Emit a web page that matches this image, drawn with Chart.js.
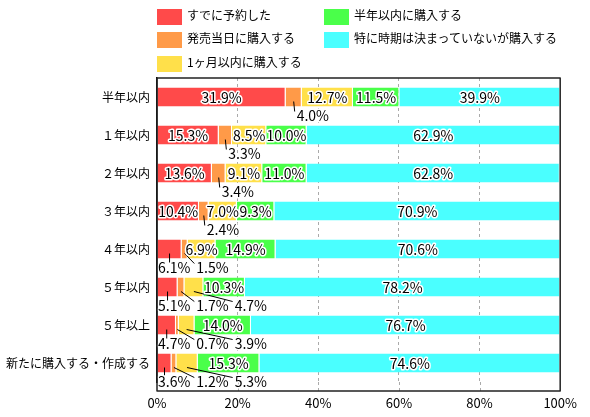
<!DOCTYPE html>
<html lang="ja">
<head>
<meta charset="UTF-8">
<title>購入時期</title>
<script src="https://cdn.jsdelivr.net/npm/chart.js"></script>
<style>
    body { margin: 0; background: #fff; }
    .wrap { position: relative; width: 590px; height: 417px; }
    .legend_item { position: absolute; font: 12px "Noto Sans CJK JP", sans-serif; color: #000; line-height: 16px; white-space: nowrap; }
    .legend_item span { display: inline-block; width: 25px; height: 16px; vertical-align: middle; margin-right: 5px; }
</style>
</head>
<body>
<div class="wrap">
    <canvas id="grafico" width="590" height="417"></canvas>
    <div id="legenda"></div>
</div>

<script>
    const categorias = ['半年以内', '１年以内', '２年以内', '３年以内', '４年以内', '５年以内', '５年以上', '新たに購入する・作成する'];
    const seriesNomes = ['すでに予約した', '発売当日に購入する', '1ヶ月以内に購入する', '半年以内に購入する', '特に時期は決まっていないが購入する'];
    const reservado = [31.9, 15.3, 13.6, 10.4, 6.1, 5.1, 4.7, 3.6];
    const diaLancamento = [4.0, 3.3, 3.4, 2.4, 1.5, 1.7, 0.7, 1.2];
    const umMes = [12.7, 8.5, 9.1, 7.0, 6.9, 4.7, 3.9, 5.3];
    const meioAno = [11.5, 10.0, 11.0, 9.3, 14.9, 10.3, 14.0, 15.3];
    const semData = [39.9, 62.9, 62.8, 70.9, 70.6, 78.2, 76.7, 74.6];
    const cores = ['#ff4a4a', '#ff9a48', '#ffe04a', '#4aff4a', '#4affff'];
    const fonte = '"Noto Sans CJK JP", sans-serif';
    const folgaInferior = 9; // espaco vazio abaixo da ultima barra

    // legenda em html (duas colunas)
    const posLegenda = [[157, 7], [157, 30], [157, 54], [324, 7], [324, 30]];
    const legenda = document.getElementById('legenda');
    seriesNomes.forEach((nome, i) => {
        const item = document.createElement('div');
        item.className = 'legend_item';
        item.style.left = posLegenda[i][0] + 'px';
        item.style.top = posLegenda[i][1] + 'px';
        item.innerHTML = '<span style="background:' + cores[i] + '"></span>' + nome;
        legenda.appendChild(item);
    });

    // rotulos dos valores: dentro da barra ou abaixo com linha guia
    const rotulos = {
        id: 'rotulos',
        afterDatasetsDraw(chart) {
            const ctx = chart.ctx;
            const area = chart.chartArea;
            const eixoX = chart.scales.x;
            ctx.save();

            // prolonga as linhas de grade ate a moldura
            ctx.strokeStyle = '#aaa';
            ctx.lineWidth = 1;
            ctx.setLineDash([3, 3]);
            eixoX.ticks.forEach(t => {
                if (t.value === 0 || t.value === 100) return;
                const px = Math.round(eixoX.getPixelForValue(t.value)) + 0.5;
                ctx.beginPath();
                ctx.moveTo(px, area.bottom);
                ctx.lineTo(px, area.bottom + folgaInferior);
                ctx.stroke();
            });
            ctx.setLineDash([]);

            ctx.font = '14px ' + fonte;
            ctx.textBaseline = 'middle';
            ctx.lineJoin = 'round';
            categorias.forEach((c, i) => {
                let fimAnterior = area.left - 5;
                chart.data.datasets.forEach((ds, d) => {
                    const bar = chart.getDatasetMeta(d).data[i];
                    const valor = ds.data[i];
                    const texto = valor.toFixed(1) + '%';
                    const centro = (bar.x + bar.base) / 2;
                    const w = ctx.measureText(texto).width;
                    if (valor >= 6.5) {
                        ctx.textAlign = 'center';
                        ctx.lineWidth = 3;
                        ctx.strokeStyle = '#fff';
                        ctx.strokeText(texto, centro, bar.y + 1);
                        ctx.fillStyle = '#000';
                        ctx.fillText(texto, centro, bar.y + 1);
                        return;
                    }
                    const fundo = bar.y + bar.height / 2;
                    const yTexto = fundo + 9;
                    let esquerda;
                    if (d === 0) {
                        esquerda = Math.max(area.left + 1, centro - w / 2);
                    } else {
                        esquerda = Math.max(centro + 3, fimAnterior + 6);
                    }
                    ctx.strokeStyle = '#000';
                    ctx.lineWidth = 1;
                    ctx.beginPath();
                    ctx.moveTo(centro, fundo - 5);
                    if (d === 0) {
                        ctx.lineTo(centro, yTexto - 5);
                    } else {
                        ctx.lineTo(esquerda - 2, yTexto - 4);
                    }
                    ctx.stroke();
                    ctx.textAlign = 'left';
                    ctx.lineWidth = 3;
                    ctx.strokeStyle = '#fff';
                    ctx.strokeText(texto, esquerda, yTexto);
                    ctx.fillStyle = '#000';
                    ctx.fillText(texto, esquerda, yTexto);
                    fimAnterior = esquerda + w;
                });
            });

            // moldura do grafico
            ctx.strokeStyle = '#222';
            ctx.lineWidth = 1.5;
            ctx.strokeRect(area.left, area.top, area.right - area.left, area.bottom + folgaInferior - area.top);
            ctx.restore();
        }
    };

    const valores = [reservado, diaLancamento, umMes, meioAno, semData];

    new Chart(document.getElementById('grafico'), {
        type: 'bar',
        data: {
            labels: categorias,
            datasets: valores.map((v, i) => ({
                label: seriesNomes[i],
                data: v,
                backgroundColor: cores[i],
                borderColor: '#fff',
                borderWidth: { left: 0, right: 1, top: 0, bottom: 0 },
                borderSkipped: false,
                barPercentage: 0.5,
                categoryPercentage: 1
            }))
        },
        options: {
            indexAxis: 'y',
            responsive: false,
            animation: false,
            layout: { padding: { top: 78, right: 28, left: 0, bottom: 0 } },
            plugins: {
                legend: { display: false },
                tooltip: { enabled: false }
            },
            scales: {
                x: {
                    stacked: true,
                    min: 0,
                    max: 100,
                    afterFit(scale) { scale.height = 35; },
                    ticks: {
                        stepSize: 20,
                        padding: 13,
                        color: '#000',
                        font: { family: fonte, size: 13 },
                        callback: v => v + '%'
                    },
                    grid: {
                        drawTicks: false,
                        color: ctx => (ctx.tick && (ctx.tick.value === 0 || ctx.tick.value === 100)) ? 'rgba(0,0,0,0)' : '#aaa',
                        tickBorderDash: [3, 3]
                    },
                    border: { display: false, dash: [3, 3] }
                },
                y: {
                    stacked: true,
                    afterFit(scale) { scale.width = 157; },
                    ticks: {
                        padding: 7,
                        color: '#000',
                        font: { family: fonte, size: 12 }
                    },
                    grid: { display: false, drawTicks: false },
                    border: { display: true, color: '#000', width: 1.5 }
                }
            }
        },
        plugins: [rotulos]
    });
</script>
</body>
</html>
